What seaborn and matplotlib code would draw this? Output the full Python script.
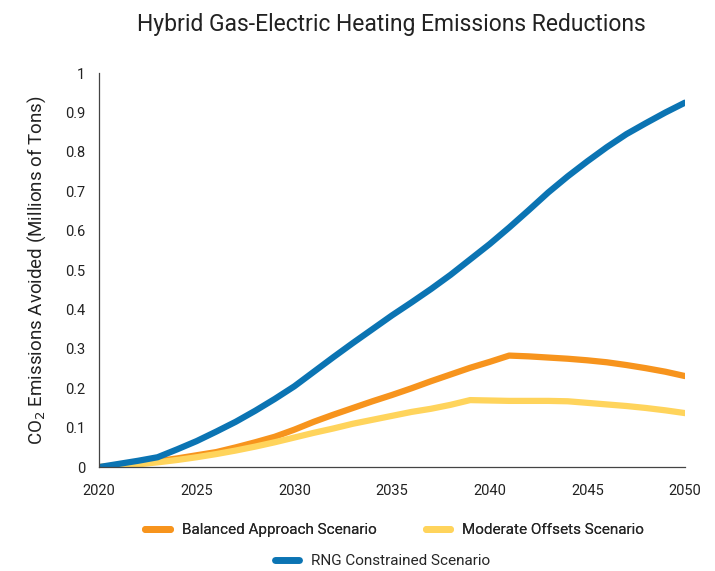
import matplotlib
matplotlib.use("Agg")
import matplotlib.pyplot as plt
import pandas as pd
import seaborn as sns
from matplotlib.lines import Line2D
from matplotlib.ticker import FuncFormatter, MultipleLocator

years = list(range(2020, 2051))

balanced = [0, 0.004, 0.009, 0.015, 0.022, 0.03, 0.038, 0.05, 0.063, 0.077,
            0.095, 0.115, 0.133, 0.15, 0.167, 0.183, 0.2, 0.218, 0.235, 0.252,
            0.267, 0.283, 0.281, 0.278, 0.275, 0.271, 0.266, 0.259, 0.251, 0.242,
            0.231]
moderate = [0, 0.003, 0.007, 0.012, 0.018, 0.025, 0.033, 0.042, 0.052, 0.063,
            0.075, 0.087, 0.098, 0.11, 0.12, 0.13, 0.14, 0.148, 0.158, 0.17,
            0.169, 0.168, 0.168, 0.168, 0.167, 0.163, 0.159, 0.155, 0.15, 0.144,
            0.137]
rng = [0, 0.008, 0.016, 0.025, 0.045, 0.066, 0.09, 0.115, 0.143, 0.173,
       0.205, 0.242, 0.279, 0.315, 0.35, 0.385, 0.418, 0.452, 0.488, 0.527,
       0.566, 0.608, 0.652, 0.697, 0.738, 0.776, 0.812, 0.845, 0.873, 0.90,
       0.925]

scenarios = ["Balanced Approach Scenario", "Moderate Offsets Scenario", "RNG Constrained Scenario"]
colors = ["#F7941D", "#FFD45C", "#0B74B3"]

df = pd.concat([
    pd.DataFrame({"year": years, "value": vals, "scenario": name})
    for name, vals in zip(scenarios, [balanced, moderate, rng])
], ignore_index=True)

sns.set_theme(style="white")
plt.rcParams["font.family"] = ["Roboto", "DejaVu Sans"]

fig = plt.figure(figsize=(7.15, 5.71), dpi=100)
ax = fig.add_axes([0.1385, 0.182, 0.8195, 0.69])

sns.lineplot(data=df, x="year", y="value", hue="scenario", hue_order=scenarios,
             palette=colors, linewidth=4.5, ax=ax, legend=False,
             solid_capstyle="round")

ax.set_xlim(2020, 2050)
ax.set_ylim(0, 1)
ax.xaxis.set_major_locator(MultipleLocator(5))
ax.yaxis.set_major_locator(MultipleLocator(0.1))
ax.yaxis.set_major_formatter(FuncFormatter(lambda v, _: f"{v:g}"))
ax.tick_params(axis="both", length=0, labelsize=10.5, colors="#222222", pad=10)
ax.tick_params(axis="x", pad=12)
for side in ["top", "right"]:
    ax.spines[side].set_visible(False)
for side in ["left", "bottom"]:
    ax.spines[side].set_color("#444444")
    ax.spines[side].set_linewidth(0.9)

ax.set_xlabel("")
ax.set_ylabel("CO$_2$ Emissions Avoided (Millions of Tons)", fontsize=13.5, color="#222222", labelpad=12)
fig.suptitle("Hybrid Gas-Electric Heating Emissions Reductions", x=0.548, y=0.978,
             fontsize=16.5, color="#222222")

handles = [Line2D([], [], color=c, linewidth=5, solid_capstyle="round") for c in colors]
leg1 = fig.legend(handles[:2], scenarios[:2], loc="center", bbox_to_anchor=(0.552, 0.071),
                  ncol=2, frameon=False, fontsize=11, handlelength=1.6, columnspacing=3.2)
fig.legend(handles[2:], scenarios[2:], loc="center", bbox_to_anchor=(0.535, 0.017),
           ncol=1, frameon=False, fontsize=11, handlelength=1.6)
fig.add_artist(leg1)

fig.savefig("out.png", dpi=100)
